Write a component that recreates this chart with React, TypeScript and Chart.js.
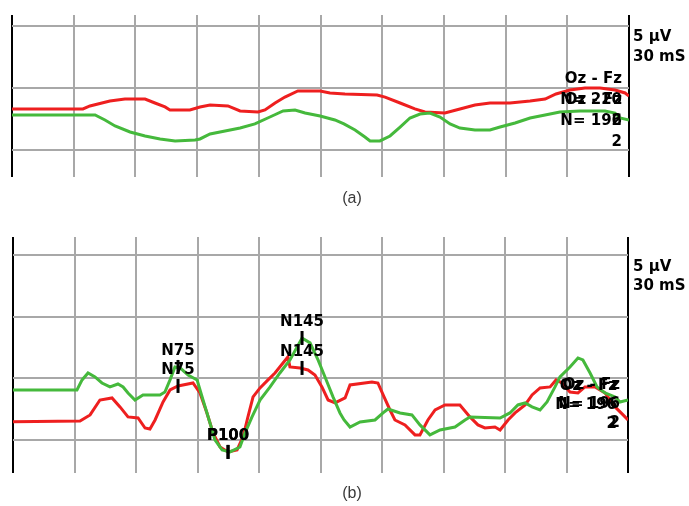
import React, { useEffect, useRef } from 'react';
import { Chart, registerables } from 'chart.js';

Chart.register(...registerables);

// ---------- axis ticks (30 mS per division, 5 µV per division) ----------
const timeTicks = [0, 30, 60, 90, 120, 150, 180, 210, 240, 270, 300];
const voltTicksA = [0, 5, 10];
const voltTicksB = [0, 5, 10, 15];

// ---------- panel (a) ----------
const redTimesA = [0, 34.5, 37.9, 47.6, 54.9, 64.7, 69.5, 74.4, 76.8, 86.5, 91.4, 96.3, 105, 110.9, 119.6, 123, 127.9, 132.7, 139, 149.8, 154.6, 161.9, 177.5, 181.4, 188.7, 195.9, 200.8, 210.5, 217.8, 225.1, 232.4, 242.1, 251.9, 259.2, 264.5, 271.3, 278.6, 285.9, 293.2, 298.1, 300];
const redValuesA = [3.31, 3.31, 3.55, 3.95, 4.11, 4.11, 3.79, 3.47, 3.23, 3.23, 3.47, 3.63, 3.55, 3.15, 3.06, 3.23, 3.79, 4.27, 4.76, 4.76, 4.6, 4.52, 4.44, 4.27, 3.79, 3.31, 3.06, 2.98, 3.31, 3.63, 3.79, 3.79, 3.95, 4.11, 4.52, 4.84, 5.0, 5.0, 4.84, 4.6, 4.35];
const greenTimesA = [0, 40.4, 45.2, 50.1, 57.4, 64.7, 72, 79.3, 89, 91.4, 96.3, 103.6, 110.9, 118.1, 125.4, 131.8, 137.6, 142.5, 149.8, 157, 161.4, 166.8, 171.6, 174.1, 178.9, 183.8, 188.7, 193.5, 198.4, 203.2, 208.1, 213, 217.8, 225.1, 232.4, 237.3, 244.6, 251.9, 259.2, 266.4, 276.2, 288.3, 293.2, 295.6, 300];
const greenValuesA = [2.82, 2.82, 2.42, 1.94, 1.45, 1.13, 0.89, 0.73, 0.81, 0.89, 1.29, 1.53, 1.77, 2.1, 2.66, 3.15, 3.23, 2.98, 2.74, 2.42, 2.1, 1.61, 1.05, 0.73, 0.73, 1.13, 1.85, 2.58, 2.9, 2.98, 2.66, 2.1, 1.77, 1.61, 1.61, 1.85, 2.18, 2.58, 2.82, 3.06, 3.15, 3.15, 2.98, 2.58, 2.42];
const legendRedA = ['Oz - Fz', 'N= 220', '2'];
const legendGreenA = ['Oz - Fz', 'N= 196', '2'];

// ---------- panel (b) ----------
const redTimesB = [0, 32.7, 37.6, 42.4, 48.3, 52.2, 56.1, 61, 64.4, 66.8, 69.3, 73.2, 76.6, 80.5, 87.8, 91.2, 94.6, 97.6, 101, 104.9, 109.3, 112.2, 114.6, 117.1, 120.5, 124.4, 127.8, 131.7, 134.1, 135.1, 140, 143.9, 147.3, 150.7, 153.7, 157.1, 162, 164.4, 175.1, 178, 181, 183.9, 186.3, 191.2, 196.1, 198.5, 202.4, 205.9, 210.7, 218, 222.9, 226.8, 230.2, 235.1, 237.6, 241.5, 244.9, 249.8, 253.2, 257.1, 262, 264.9, 267.8, 271.7, 275.6, 279, 283.9, 288.8, 293.7, 297.6, 300];
const redValuesB = [1.48, 1.54, 2.03, 3.24, 3.41, 2.68, 1.87, 1.78, 0.97, 0.89, 1.62, 3.08, 4.06, 4.38, 4.62, 3.81, 2.19, 0.57, -0.57, -0.97, -0.81, 0.24, 1.87, 3.49, 4.22, 4.87, 5.43, 6.24, 6.73, 5.92, 5.84, 5.68, 5.27, 4.3, 3.24, 3.0, 3.41, 4.46, 4.7, 4.62, 3.49, 2.43, 1.62, 1.22, 0.41, 0.41, 1.62, 2.43, 2.84, 2.84, 1.87, 1.22, 0.97, 1.05, 0.81, 1.62, 2.19, 2.84, 3.65, 4.22, 4.3, 4.87, 4.62, 3.89, 3.81, 4.3, 4.3, 3.81, 2.68, 2.03, 1.62];
const greenTimesB = [0, 31.2, 33.7, 36.6, 40, 43.4, 47.3, 51.2, 53.7, 56.1, 59.5, 63.4, 71.7, 74.1, 76.6, 79, 81.5, 85.4, 89.8, 92.7, 96.1, 98.5, 102, 105.9, 110.7, 113.2, 116.6, 120.5, 125.4, 130.2, 135.1, 141, 144.9, 148.8, 152.2, 156.1, 159.5, 161.5, 164.4, 169.3, 176.6, 180.5, 182.9, 188.8, 194.6, 198.5, 203.4, 208.3, 215.6, 220.5, 222.9, 237.6, 242.4, 246.3, 249.8, 253.2, 257.1, 260.5, 264.4, 266.8, 271.7, 275.6, 278, 281.5, 284.9, 288.8, 293.7, 296.1, 300];
const greenValuesB = [4.06, 4.06, 4.87, 5.43, 5.11, 4.62, 4.3, 4.54, 4.3, 3.81, 3.24, 3.65, 3.65, 3.89, 4.87, 5.92, 5.84, 5.27, 4.87, 3.24, 1.38, 0, -0.81, -0.97, -0.57, 0.57, 1.87, 3.24, 4.3, 5.43, 6.49, 8.27, 7.87, 6.49, 5.11, 3.49, 2.19, 1.62, 1.05, 1.46, 1.62, 2.19, 2.51, 2.19, 2.03, 1.22, 0.41, 0.81, 1.05, 1.62, 1.87, 1.78, 2.19, 2.84, 3.0, 2.68, 2.43, 3.08, 4.3, 5.11, 5.92, 6.65, 6.49, 5.43, 4.3, 3.81, 3.49, 3.08, 3.24];
const peakLabels = ['N75', 'P100', 'N145'];
const peakTimes = [80.5, 104.9, 141];
const peakRedValues = [4.38, -0.97, 5.84];
const peakGreenValues = [5.92, -0.97, 8.27];
const legendRedB = ['Oz - Fz', 'N= 196', '2'];
const legendGreenB = ['Oz - Fz', 'N= 196', '2'];

const scaleLabel = ['5 \u00b5V', '30 mS'];

// ---------- styling ----------
const RED = '#ee1f1f';
const GREEN = '#45b93c';
const GRID = '#a8a8a8';
const BOLD_FONT = 'bold 15px "DejaVu Sans", Verdana, sans-serif';
const CAPTION_FONT = '16px "Liberation Sans", Arial, sans-serif';

const toPoints = (xs: number[], ys: number[]) => xs.map((x, i) => ({ x, y: ys[i] }));

type TextItem = { text: string; x: number; y: number; align: CanvasTextAlign; font?: string; color?: string };

function textPlugin(getItems: (chart: any) => TextItem[]) {
  return {
    id: 'textLabels',
    afterDraw(chart: any) {
      const ctx = chart.ctx as CanvasRenderingContext2D;
      ctx.save();
      ctx.textBaseline = 'middle';
      for (const it of getItems(chart)) {
        ctx.font = it.font || BOLD_FONT;
        ctx.fillStyle = it.color || '#000';
        ctx.textAlign = it.align;
        ctx.fillText(it.text, it.x, it.y);
      }
      ctx.restore();
    },
  };
}

function lineDataset(label: string, pts: { x: number; y: number }[], color: string) {
  return {
    label,
    data: pts,
    borderColor: color,
    backgroundColor: color,
    borderWidth: 3,
    pointRadius: 0,
    tension: 0,
    fill: false,
  };
}

function markerDataset(label: string, pts: { x: number; y: number }[]) {
  return {
    label,
    data: pts,
    showLine: false,
    pointStyle: 'line',
    rotation: 90,
    pointRadius: 7,
    borderColor: '#000',
    backgroundColor: '#000',
    borderWidth: 3,
  };
}

function makeOptions(yMin: number, yMax: number, yTicks: number[], padding: any) {
  return {
    responsive: false,
    animation: false as const,
    events: [],
    layout: { padding },
    plugins: { legend: { display: false }, tooltip: { enabled: false }, title: { display: false } },
    scales: {
      x: {
        type: 'linear' as const,
        min: 0,
        max: 300,
        afterBuildTicks: (s: any) => { s.ticks = timeTicks.map((v) => ({ value: v })); },
        ticks: { display: false },
        border: { display: false },
        grid: {
          drawTicks: false,
          lineWidth: 2,
          color: (c: any) => (c.tick && (c.tick.value === 0 || c.tick.value === 300) ? '#000' : GRID),
        },
      },
      y: {
        type: 'linear' as const,
        min: yMin,
        max: yMax,
        afterBuildTicks: (s: any) => { s.ticks = yTicks.map((v) => ({ value: v })); },
        ticks: { display: false },
        border: { display: false },
        grid: { drawTicks: false, lineWidth: 2, color: GRID },
      },
    },
  };
}

function ChartCanvas({ top, height, config }: { top: number; height: number; config: () => any }) {
  const ref = useRef<HTMLCanvasElement | null>(null);
  useEffect(() => {
    if (!ref.current) return;
    const chart = new Chart(ref.current, config());
    return () => chart.destroy();
  }, []);
  return (
    <canvas
      ref={ref}
      width={689}
      height={height}
      style={{ position: 'absolute', left: 0, top, width: 689, height, display: 'block' }}
    />
  );
}

function configA() {
  return {
    type: 'line' as const,
    data: {
      datasets: [
        lineDataset('Oz - Fz (green)', toPoints(greenTimesA, greenValuesA), GREEN),
        lineDataset('Oz - Fz (red)', toPoints(redTimesA, redValuesA), RED),
      ],
    },
    options: makeOptions(-2.18, 10.89, voltTicksA, { left: 12, right: 60, top: 15, bottom: 38 }),
    plugins: [
      textPlugin((chart) => {
        const a = chart.chartArea;
        const items: TextItem[] = [];
        items.push({ text: scaleLabel[0], x: a.right + 4, y: a.top + 22, align: 'left' });
        items.push({ text: scaleLabel[1], x: a.right + 4, y: a.top + 42, align: 'left' });
        legendRedA.forEach((t, i) => items.push({ text: t, x: a.right - 7, y: a.top + 64 + i * 21, align: 'right' }));
        legendGreenA.forEach((t, i) => items.push({ text: t, x: a.right - 7, y: a.top + 85 + i * 21, align: 'right' }));
        items.push({ text: '(a)', x: 352, y: a.bottom + 22, align: 'center', font: CAPTION_FONT, color: '#3a3a3a' });
        return items;
      }),
    ],
  };
}

function configB() {
  return {
    type: 'line' as const,
    data: {
      datasets: [
        markerDataset('peaks green', toPoints(peakTimes, peakGreenValues)),
        markerDataset('peaks red', toPoints(peakTimes, peakRedValues)),
        lineDataset('Oz - Fz (green)', toPoints(greenTimesB, greenValuesB), GREEN),
        lineDataset('Oz - Fz (red)', toPoints(redTimesB, redValuesB), RED),
      ],
    },
    options: makeOptions(-2.68, 16.46, voltTicksB, { left: 13, right: 61, top: 22, bottom: 33 }),
    plugins: [
      textPlugin((chart) => {
        const a = chart.chartArea;
        const xs = chart.scales.x;
        const ys = chart.scales.y;
        const items: TextItem[] = [];
        items.push({ text: scaleLabel[0], x: a.right + 5, y: a.top + 30, align: 'left' });
        items.push({ text: scaleLabel[1], x: a.right + 5, y: a.top + 49, align: 'left' });
        peakLabels.forEach((t, i) => {
          const px = xs.getPixelForValue(peakTimes[i]);
          items.push({ text: t, x: px, y: ys.getPixelForValue(peakGreenValues[i]) - 16, align: 'center' });
          items.push({ text: t, x: px, y: ys.getPixelForValue(peakRedValues[i]) - 16, align: 'center' });
        });
        legendRedB.forEach((t, i) => items.push({ text: t, x: a.right - 8, y: a.top + 148 + i * 19, align: 'right' }));
        legendGreenB.forEach((t, i) => items.push({ text: t, x: a.right - 11, y: a.top + 149 + i * 19, align: 'right' }));
        items.push({ text: '(b)', x: 352, y: a.bottom + 21, align: 'center', font: CAPTION_FONT, color: '#3a3a3a' });
        return items;
      }),
    ],
  };
}

export default function App() {
  return (
    <div style={{ position: 'absolute', left: 0, top: 0, width: 689, height: 506, background: '#fff' }}>
      <ChartCanvas top={0} height={215} config={configA} />
      <ChartCanvas top={215} height={291} config={configB} />
    </div>
  );
}
